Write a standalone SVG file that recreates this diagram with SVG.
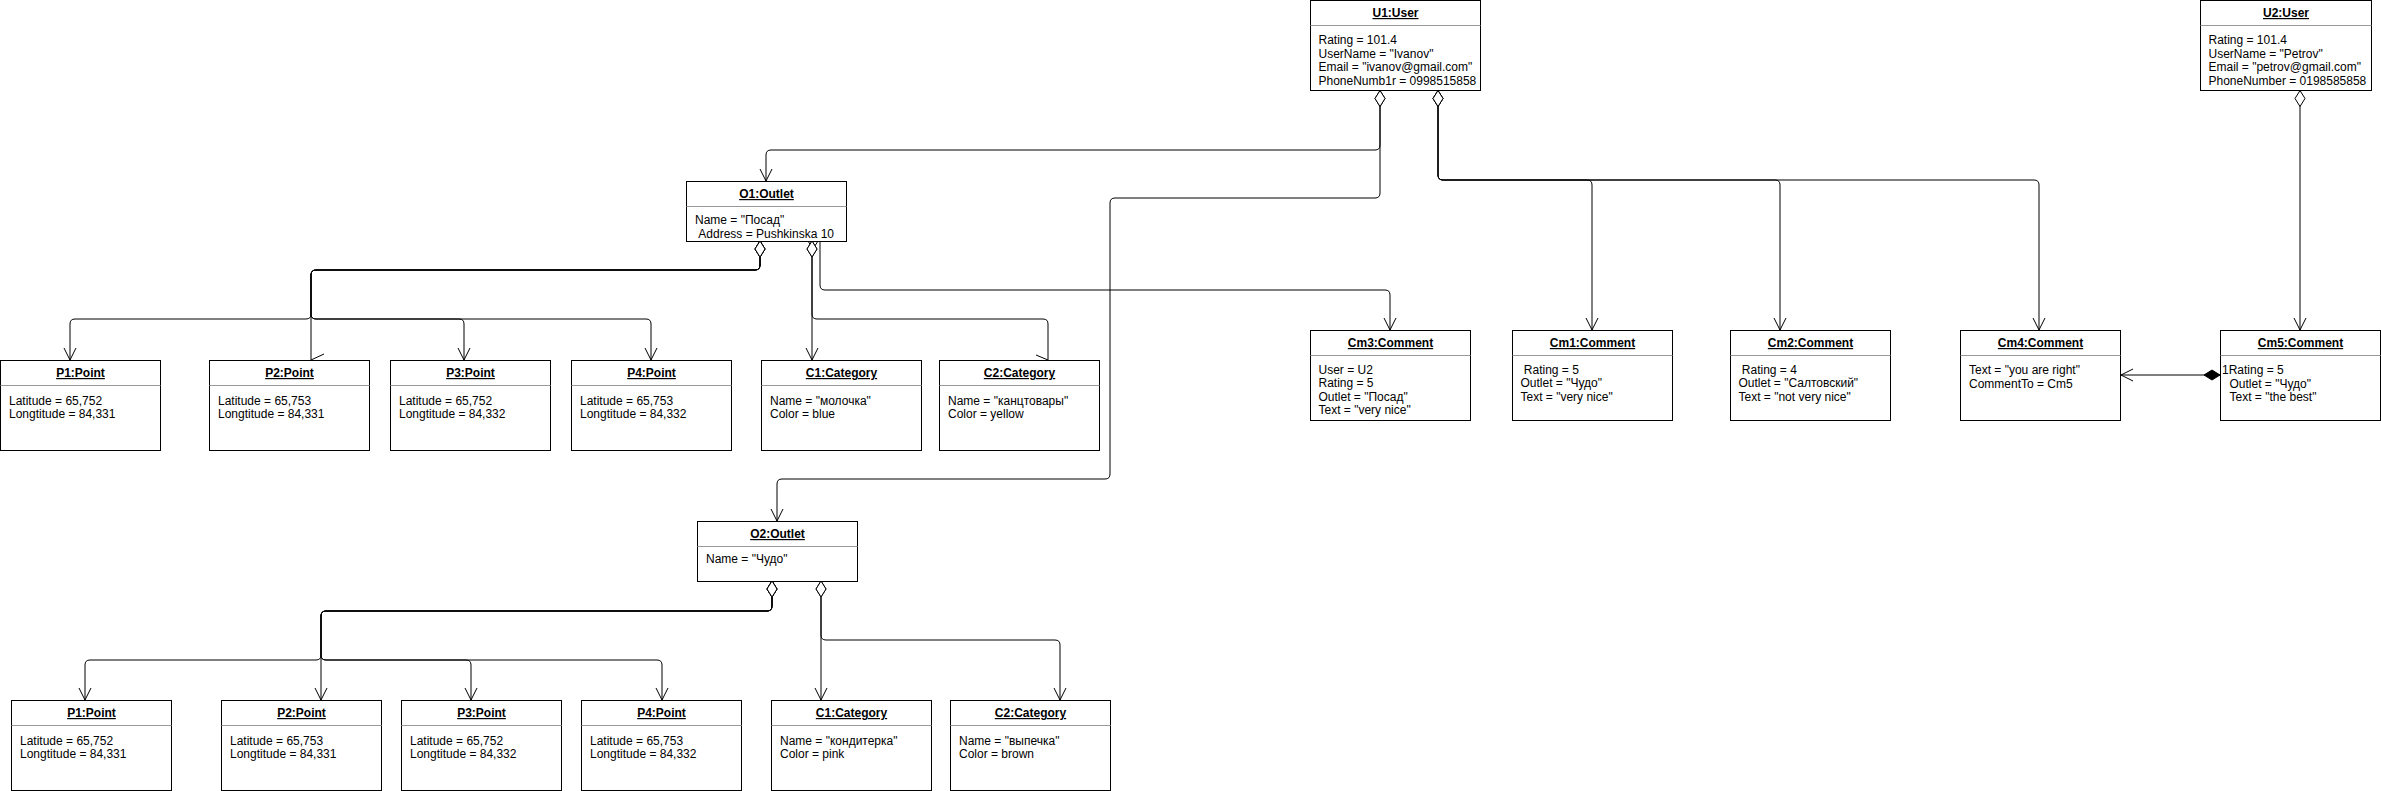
<svg xmlns="http://www.w3.org/2000/svg" width="2381" height="791" viewBox="0 0 2381 791">
<style>
.box{fill:#fff;stroke:#000;stroke-width:1}
.sep{stroke:#999;stroke-width:1}
text{font-family:"Liberation Sans",Arial,sans-serif;font-size:12px;fill:#000}
.title{font-weight:bold;text-decoration:underline;text-anchor:middle}
.edge{fill:none;stroke:#000;stroke-width:1}
.agg{marker-start:url(#dia);marker-end:url(#arrow)}
</style>
<defs>
<marker id="arrow" viewBox="0 0 14 14" refX="13" refY="7" markerWidth="14" markerHeight="14" markerUnits="userSpaceOnUse" orient="auto"><path d="M1,1 L13,7 L1,13" fill="none" stroke="#000" stroke-width="1"/></marker>
<marker id="dia" viewBox="0 0 18 12" refX="1" refY="6" markerWidth="18" markerHeight="12" markerUnits="userSpaceOnUse" orient="auto"><path d="M1,6 L9,1 L17,6 L9,11 Z" fill="#fff" stroke="#000" stroke-width="1"/></marker>
<marker id="diaf" viewBox="0 0 18 12" refX="1" refY="6" markerWidth="18" markerHeight="12" markerUnits="userSpaceOnUse" orient="auto"><path d="M1,6 L9,1 L17,6 L9,11 Z" fill="#000" stroke="#000" stroke-width="1"/></marker>
</defs>
<rect width="2381" height="791" fill="#fff"/>

<g id="connectors">
<path class="edge agg" d="M1380,90.5 V145 Q1380,150 1375,150 H771 Q766,150 766,155 V181"/>
<path class="edge agg" d="M1380,90.5 V193 Q1380,198 1375,198 H1115 Q1110,198 1110,203 V474 Q1110,479 1105,479 H782 Q777,479 777,484 V521"/>
<path class="edge agg" d="M1438,90.5 V175 Q1438,180 1443,180 H1587 Q1592,180 1592,185 V330"/>
<path class="edge agg" d="M1438,90.5 V175 Q1438,180 1443,180 H1775 Q1780,180 1780,185 V330"/>
<path class="edge agg" d="M1438,90.5 V175 Q1438,180 1443,180 H2034 Q2039,180 2039,185 V330"/>
<path class="edge agg" d="M2300,90.5 V330"/>
<path class="edge agg" d="M813,249 V236 Q813,232 816.5,232 Q820,232 820,236 V285 Q820,290 825,290 H1385 Q1390,290 1390,295 V330"/>
<path class="edge agg" d="M812,241 V360"/>
<path class="edge" style="marker-start:url(#dia)" d="M812,241 V314 Q812,319 817,319 H1043 Q1048,319 1048,324 V360"/>
<path class="edge" d="M1036,355 L1048,360"/>
<path class="edge agg" d="M760,241 V265 Q760,270 755,270 H316 Q311,270 311,275 V314 Q311,319 306,319 H75 Q70,319 70,324 V360"/>
<path class="edge" style="marker-start:url(#dia)" d="M760,241 V265 Q760,270 755,270 H316 Q311,270 311,275 V360"/>
<path class="edge" d="M311,360 L324,354"/>
<path class="edge agg" d="M760,241 V265 Q760,270 755,270 H316 Q311,270 311,275 V314 Q311,319 316,319 H459 Q464,319 464,324 V360"/>
<path class="edge agg" d="M760,241 V265 Q760,270 755,270 H316 Q311,270 311,275 V314 Q311,319 316,319 H646 Q651,319 651,324 V360"/>
<path class="edge agg" d="M772,581 V606 Q772,611 767,611 H326 Q321,611 321,616 V655 Q321,660 316,660 H90 Q85,660 85,665 V700"/>
<path class="edge agg" d="M772,581 V606 Q772,611 767,611 H326 Q321,611 321,616 V700"/>
<path class="edge agg" d="M772,581 V606 Q772,611 767,611 H326 Q321,611 321,616 V655 Q321,660 326,660 H466 Q471,660 471,665 V700"/>
<path class="edge agg" d="M772,581 V606 Q772,611 767,611 H326 Q321,611 321,616 V655 Q321,660 326,660 H657 Q662,660 662,665 V700"/>
<path class="edge agg" d="M821,581 V700"/>
<path class="edge agg" d="M821,581 V635 Q821,640 826,640 H1055 Q1060,640 1060,645 V700"/>
<path class="edge" style="marker-start:url(#diaf);marker-end:url(#arrow)" d="M2220,375 H2121"/>
</g>

<g id="U1"><rect class="box" x="1310.5" y="0.5" width="170" height="90"/><line class="sep" x1="1310.5" y1="25.5" x2="1480.5" y2="25.5"/>
<text class="title" x="1395.5" y="17">U1:User</text>
<text x="1318.5" y="44">Rating = 101.4</text><text x="1318.5" y="57.5">UserName = "Ivanov"</text><text x="1318.5" y="71">Email = "ivanov@gmail.com"</text><text x="1318.5" y="84.5">PhoneNumb1r = 0998515858</text></g>

<g id="U2"><rect class="box" x="2200.5" y="0.5" width="171" height="90"/><line class="sep" x1="2200.5" y1="25.5" x2="2371.5" y2="25.5"/>
<text class="title" x="2286" y="17">U2:User</text>
<text x="2208.5" y="44">Rating = 101.4</text><text x="2208.5" y="57.5">UserName = "Petrov"</text><text x="2208.5" y="71">Email = "petrov@gmail.com"</text><text x="2208.5" y="84.5">PhoneNumber = 0198585858</text></g>

<g id="O1"><rect class="box" x="686.5" y="181.5" width="160" height="60"/><line class="sep" x1="686.5" y1="206.5" x2="846.5" y2="206.5"/>
<text class="title" x="766.5" y="198">O1:Outlet</text>
<text x="695" y="224">Name = "Посад"</text><text x="698.3" y="237.5">Address = Pushkinska 10</text></g>

<g id="P1"><rect class="box" x="0.5" y="360.5" width="160" height="90"/><line class="sep" x1="0.5" y1="385.5" x2="160.5" y2="385.5"/>
<text class="title" x="80.5" y="377">P1:Point</text><text x="9" y="404.5">Latitude = 65,752</text><text x="9" y="418">Longtitude = 84,331</text></g>
<g id="P2"><rect class="box" x="209.5" y="360.5" width="160" height="90"/><line class="sep" x1="209.5" y1="385.5" x2="369.5" y2="385.5"/>
<text class="title" x="289.5" y="377">P2:Point</text><text x="218" y="404.5">Latitude = 65,753</text><text x="218" y="418">Longtitude = 84,331</text></g>
<g id="P3"><rect class="box" x="390.5" y="360.5" width="160" height="90"/><line class="sep" x1="390.5" y1="385.5" x2="550.5" y2="385.5"/>
<text class="title" x="470.5" y="377">P3:Point</text><text x="399" y="404.5">Latitude = 65,752</text><text x="399" y="418">Longtitude = 84,332</text></g>
<g id="P4"><rect class="box" x="571.5" y="360.5" width="160" height="90"/><line class="sep" x1="571.5" y1="385.5" x2="731.5" y2="385.5"/>
<text class="title" x="651.5" y="377">P4:Point</text><text x="580" y="404.5">Latitude = 65,753</text><text x="580" y="418">Longtitude = 84,332</text></g>
<g id="C1"><rect class="box" x="761.5" y="360.5" width="160" height="90"/><line class="sep" x1="761.5" y1="385.5" x2="921.5" y2="385.5"/>
<text class="title" x="841.5" y="377">C1:Category</text><text x="770" y="404.5">Name = "молочка"</text><text x="770" y="418">Color = blue</text></g>
<g id="C2"><rect class="box" x="939.5" y="360.5" width="160" height="90"/><line class="sep" x1="939.5" y1="385.5" x2="1099.5" y2="385.5"/>
<text class="title" x="1019.5" y="377">C2:Category</text><text x="948" y="404.5">Name = "канцтовары"</text><text x="948" y="418">Color = yellow</text></g>

<g id="Cm3"><rect class="box" x="1310.5" y="330.5" width="160" height="90"/><line class="sep" x1="1310.5" y1="355.5" x2="1470.5" y2="355.5"/>
<text class="title" x="1390.5" y="347">Cm3:Comment</text><text x="1318.5" y="373.5">User = U2</text><text x="1318.5" y="387">Rating = 5</text><text x="1318.5" y="400.5">Outlet = "Посад"</text><text x="1318.5" y="414">Text = "very nice"</text></g>
<g id="Cm1"><rect class="box" x="1512.5" y="330.5" width="160" height="90"/><line class="sep" x1="1512.5" y1="355.5" x2="1672.5" y2="355.5"/>
<text class="title" x="1592.5" y="347">Cm1:Comment</text><text x="1523.8" y="373.5">Rating = 5</text><text x="1520.5" y="387">Outlet = "Чудо"</text><text x="1520.5" y="400.5">Text = "very nice"</text></g>
<g id="Cm2"><rect class="box" x="1730.5" y="330.5" width="160" height="90"/><line class="sep" x1="1730.5" y1="355.5" x2="1890.5" y2="355.5"/>
<text class="title" x="1810.5" y="347">Cm2:Comment</text><text x="1741.8" y="373.5">Rating = 4</text><text x="1738.5" y="387">Outlet = "Салтовский"</text><text x="1738.5" y="400.5">Text = "not very nice"</text></g>
<g id="Cm4"><rect class="box" x="1960.5" y="330.5" width="160" height="90"/><line class="sep" x1="1960.5" y1="355.5" x2="2120.5" y2="355.5"/>
<text class="title" x="2040.5" y="347">Cm4:Comment</text><text x="1969" y="374">Text = "you are right"</text><text x="1969" y="387.5">CommentTo = Cm5</text></g>
<g id="Cm5"><rect class="box" x="2220.5" y="330.5" width="160" height="90"/><line class="sep" x1="2220.5" y1="355.5" x2="2380.5" y2="355.5"/>
<text class="title" x="2300.5" y="347">Cm5:Comment</text><text x="2222" y="374">1Rating = 5</text><text x="2229.5" y="387.5">Outlet = "Чудо"</text><text x="2229.5" y="401">Text = "the best"</text></g>

<g id="O2"><rect class="box" x="697.5" y="521.5" width="160" height="60"/><line class="sep" x1="697.5" y1="546.5" x2="857.5" y2="546.5"/>
<text class="title" x="777.5" y="538">O2:Outlet</text><text x="706" y="563">Name = "Чудо"</text></g>

<g id="P1b"><rect class="box" x="11.5" y="700.5" width="160" height="90"/><line class="sep" x1="11.5" y1="725.5" x2="171.5" y2="725.5"/>
<text class="title" x="91.5" y="717">P1:Point</text><text x="20" y="744.5">Latitude = 65,752</text><text x="20" y="758">Longtitude = 84,331</text></g>
<g id="P2b"><rect class="box" x="221.5" y="700.5" width="160" height="90"/><line class="sep" x1="221.5" y1="725.5" x2="381.5" y2="725.5"/>
<text class="title" x="301.5" y="717">P2:Point</text><text x="230" y="744.5">Latitude = 65,753</text><text x="230" y="758">Longtitude = 84,331</text></g>
<g id="P3b"><rect class="box" x="401.5" y="700.5" width="160" height="90"/><line class="sep" x1="401.5" y1="725.5" x2="561.5" y2="725.5"/>
<text class="title" x="481.5" y="717">P3:Point</text><text x="410" y="744.5">Latitude = 65,752</text><text x="410" y="758">Longtitude = 84,332</text></g>
<g id="P4b"><rect class="box" x="581.5" y="700.5" width="160" height="90"/><line class="sep" x1="581.5" y1="725.5" x2="741.5" y2="725.5"/>
<text class="title" x="661.5" y="717">P4:Point</text><text x="590" y="744.5">Latitude = 65,753</text><text x="590" y="758">Longtitude = 84,332</text></g>
<g id="C1b"><rect class="box" x="771.5" y="700.5" width="160" height="90"/><line class="sep" x1="771.5" y1="725.5" x2="931.5" y2="725.5"/>
<text class="title" x="851.5" y="717">C1:Category</text><text x="780" y="744.5">Name = "кондитерка"</text><text x="780" y="758">Color = pink</text></g>
<g id="C2b"><rect class="box" x="950.5" y="700.5" width="160" height="90"/><line class="sep" x1="950.5" y1="725.5" x2="1110.5" y2="725.5"/>
<text class="title" x="1030.5" y="717">C2:Category</text><text x="959" y="744.5">Name = "выпечка"</text><text x="959" y="758">Color = brown</text></g>
</svg>
